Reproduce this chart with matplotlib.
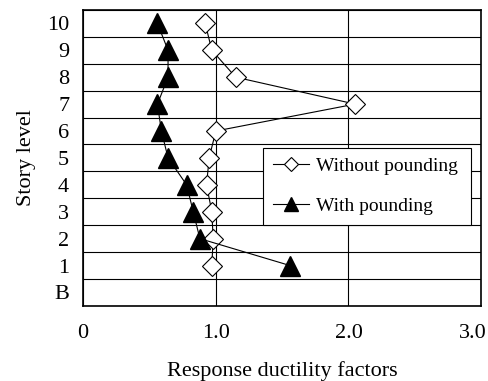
import matplotlib
matplotlib.use("Agg")
import matplotlib.pyplot as plt
import matplotlib.transforms as mtransforms
import numpy as np

plt.rcParams['font.family'] = ['Liberation Serif', 'DejaVu Serif']

# story levels (B = basement) and response ductility factors
levels = ['B', '1', '2', '3', '4', '5', '6', '7', '8', '9', '10']
story = [1, 2, 3, 4, 5, 6, 7, 8, 9, 10]
without_pounding = [0.97, 0.98, 0.97, 0.93, 0.95, 1.00, 2.05, 1.15, 0.97, 0.92]
with_pounding = [1.56, 0.88, 0.83, 0.78, 0.64, 0.59, 0.56, 0.64, 0.64, 0.56]

fig = plt.figure(figsize=(4.89, 3.81), dpi=100)
ax = fig.add_axes([0.17, 0.197, 0.814, 0.777])

ax.plot(without_pounding, story, color='black', lw=0.8, marker='D', ms=10,
        mfc='white', mec='black', mew=0.8, label='Without pounding', zorder=3)
ax.plot(with_pounding, story, color='black', lw=0.8, marker='^', ms=15,
        mfc='black', mec='black', label='With pounding', zorder=3)

ax.set_xlim(0, 3.0)
ax.set_ylim(-0.5, 10.5)
ax.set_xticks([0, 1.0, 2.0, 3.0])
ax.set_xticklabels(['0', '1.0', '2.0', '3.0'])
ax.set_yticks(range(len(levels)))
ax.set_yticklabels(levels)
ax.set_yticks(np.arange(-0.5, 10.6, 1.0), minor=True)
ax.tick_params(axis='both', which='both', length=0, labelsize=16)
ax.tick_params(axis='x', pad=13)
ax.tick_params(axis='y', pad=10)
ax.grid(True, which='minor', axis='y', color='black', lw=0.8)
ax.grid(True, which='major', axis='x', color='black', lw=0.8)
for s in ax.spines.values():
    s.set_linewidth(1.2)

# last x label sits a little to the left so it stays inside the figure
lab = ax.get_xticklabels()[-1]
lab.set_transform(lab.get_transform() +
                  mtransforms.ScaledTranslation(-6 / 72, 0, fig.dpi_scale_trans))

ax.set_xlabel('Response ductility factors', fontsize=16, labelpad=13)
ax.set_ylabel('Story level', fontsize=16, labelpad=8)

leg = ax.legend(loc='lower left', bbox_to_anchor=(0.452, 0.274, 0.523, 0.26),
                mode='expand', borderaxespad=0, fontsize=14, frameon=True,
                fancybox=False, edgecolor='black', framealpha=1,
                markerscale=0.68, handlelength=1.85, handletextpad=0.35,
                labelspacing=1.15, borderpad=0.5)
leg.get_frame().set_linewidth(0.8)

fig.savefig('out.png', dpi=100)
